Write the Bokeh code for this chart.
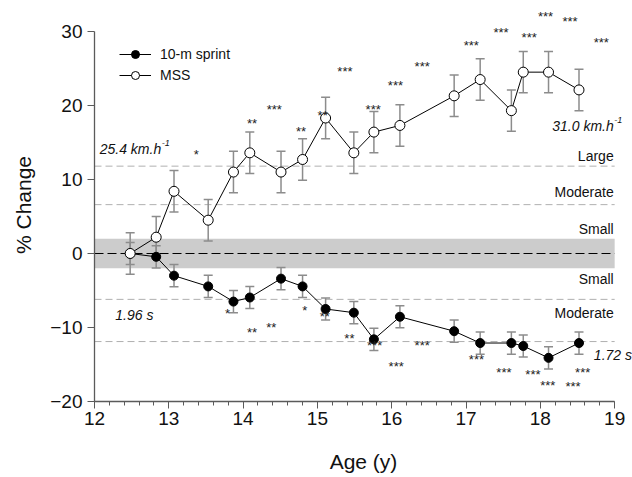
from bokeh.plotting import figure
from bokeh.models import Legend, LegendItem, SingleIntervalTicker
from bokeh.embed import file_html
from bokeh.resources import INLINE
from bokeh.core.properties import value

FONT = value("Liberation Sans")

# ---------------- data ----------------
ages = [12.48, 12.83, 13.07, 13.53, 13.87, 14.09, 14.51, 14.80, 15.11,
        15.49, 15.76, 16.11, 16.84, 17.19, 17.61, 17.77, 18.11, 18.52]
mss = [0.0, 2.2, 8.4, 4.5, 11.0, 13.6, 11.0, 12.7, 18.3,
       13.6, 16.4, 17.3, 21.3, 23.5, 19.3, 24.5, 24.5, 22.1]
mss_err = [2.8, 2.8, 2.8, 2.8, 2.8, 2.8, 2.8, 2.8, 2.8,
           2.8, 2.8, 2.8, 2.8, 2.8, 2.8, 2.8, 2.8, 2.8]
sprint = [0.0, -0.45, -3.0, -4.45, -6.5, -5.95, -3.4, -4.45, -7.5,
          -8.0, -11.6, -8.55, -10.5, -12.1, -12.1, -12.5, -14.1, -12.1]
sprint_err = [1.5, 1.5, 1.5, 1.5, 1.5, 1.5, 1.5, 1.5, 1.5,
              1.5, 1.5, 1.5, 1.5, 1.5, 1.5, 1.5, 1.5, 1.5]

# significance markers
mss_star_x = [13.37, 14.12, 14.42, 14.78, 15.07, 15.37, 15.75, 16.05,
              16.41, 17.07, 17.47, 17.85, 18.07, 18.40, 18.82]
mss_star_y = [13.8, 17.9, 19.9, 16.9, 19.1, 25.0, 19.9, 23.15,
              25.7, 28.55, 30.2, 29.55, 32.45, 31.7, 28.9]
mss_star_txt = ["*", "**", "***", "**", "**", "***", "***", "***",
                "***", "***", "***", "***", "***", "***", "***"]
sp_star_x = [13.79, 14.12, 14.38, 14.83, 15.10, 15.43, 15.77, 16.06,
             16.41, 17.14, 17.51, 17.90, 18.10, 18.44, 18.57]
sp_star_y = [-7.7, -10.3, -9.55, -7.25, -8.05, -11.1, -12.05, -14.8,
             -12.0, -13.9, -15.7, -15.9, -17.5, -17.6, -15.7]
sp_star_txt = ["*", "**", "**", "*", "**", "**", "***", "***",
               "***", "***", "***", "***", "***", "***", "***"]

# effect-size thresholds
band_lo, band_hi = -2.0, 2.0
thresholds = [11.8, 6.6, -6.2, -11.9]
zone_txt = ["Large", "Moderate", "Small", "Small", "Moderate"]
zone_y = [13.2, 8.3, 3.25, -3.5, -8.1]

ref_txt = ["25.4 km.h", "31.0 km.h"]
ref_x = [12.07, 18.16]
ref_y = [14.05, 17.2]
time_txt = ["1.96 s", "1.72 s"]
time_x = [12.28, 18.72]
time_y = [-8.25, -13.75]

x_min, x_max = 12, 19
y_min, y_max = -20, 30

# ---------------- figure ----------------
p = figure(width=632, height=477, x_range=(12, 19.24), y_range=(-20, 33.1),
           output_backend="svg", toolbar_location=None,
           min_border_left=94, min_border_right=0, min_border_top=8,
           min_border_bottom=76)
p.outline_line_color = None
p.grid.visible = False

# band and reference lines
p.quad(left=[x_min], right=[x_max], bottom=[band_lo], top=[band_hi],
       fill_color="#cccccc", line_color=None)
for t in thresholds:
    p.line(x=[x_min, x_max], y=[t, t], line_color="#b0b0b0", line_width=1,
           line_dash="7 4")
p.line(x=[x_min, x_max], y=[0, 0], line_color="black", line_width=1.2,
       line_dash="9 4")

# error bars
bar_col = "#8c8c8c"
for vals, errs in ((sprint, sprint_err), (mss, mss_err)):
    lo = [v - e for v, e in zip(vals, errs)]
    hi = [v + e for v, e in zip(vals, errs)]
    p.segment(x0=ages, y0=lo, x1=ages, y1=hi, line_color=bar_col, line_width=1.5)
    p.scatter(x=ages + ages, y=lo + hi, marker="dash", size=9,
              line_color=bar_col, line_width=1.5)

# series
sp_line = p.line(ages, sprint, line_color="black", line_width=1)
ms_line = p.line(ages, mss, line_color="black", line_width=1)
sp_pts = p.scatter(ages, sprint, size=9, fill_color="black", line_color="black")
ms_pts = p.scatter(ages, mss, size=10, fill_color="white", line_color="black",
                   line_width=1)

# stars
p.text(x=mss_star_x, y=mss_star_y, text=mss_star_txt, text_font=FONT,
       text_font_size="13px", text_align="center", text_baseline="middle",
       y_offset=3, text_color="#222222")
p.text(x=sp_star_x, y=sp_star_y, text=sp_star_txt, text_font=FONT,
       text_font_size="13px", text_align="center", text_baseline="middle",
       y_offset=3, text_color="#222222")

# zone labels
p.text(x=[x_max] * len(zone_txt), y=zone_y, text=zone_txt, text_font=FONT,
       text_font_size="14px", text_align="right", text_baseline="middle",
       x_offset=-1, text_color="#111111")

# reference values
p.text(x=ref_x, y=ref_y, text=ref_txt, text_font=FONT, text_font_size="14px",
       text_font_style="italic", text_align="left", text_baseline="middle",
       text_color="#111111")
p.text(x=ref_x, y=ref_y, text=["-1", "-1"], text_font=FONT, text_font_size="9px",
       text_font_style="italic", text_align="left", text_baseline="middle",
       x_offset=62, y_offset=-6, text_color="#111111")
p.text(x=time_x, y=time_y, text=time_txt, text_font=FONT, text_font_size="14px",
       text_font_style="italic", text_align="left", text_baseline="middle",
       text_color="#111111")

# axes
axis_col = "#5a5a5a"
for ax in (p.xaxis[0], p.yaxis[0]):
    ax.axis_line_color = axis_col
    ax.axis_line_width = 1.3
    ax.major_tick_line_color = axis_col
    ax.minor_tick_line_color = axis_col
    ax.major_tick_in = 0
    ax.minor_tick_in = 0
    ax.major_label_text_font = "Liberation Sans"
    ax.major_label_text_font_size = "19px"
    ax.major_label_text_color = "#111111"
    ax.axis_label_text_font = "Liberation Sans"
    ax.axis_label_text_font_size = "21px"
    ax.axis_label_text_font_style = "normal"
    ax.axis_label_text_color = "#111111"

p.xaxis.ticker = SingleIntervalTicker(interval=1, num_minor_ticks=5)
p.xaxis.bounds = (x_min, x_max)
p.xaxis.major_tick_out = 7
p.xaxis.minor_tick_out = 4
p.xaxis.major_label_standoff = 3
p.xaxis.axis_label = "Age (y)"
p.xaxis.axis_label_standoff = 22

p.yaxis.ticker = SingleIntervalTicker(interval=10, num_minor_ticks=0)
p.yaxis.bounds = (y_min, y_max)
p.yaxis.major_tick_out = 7
p.yaxis.minor_tick_out = 0
p.yaxis.major_label_standoff = 5
p.yaxis.axis_label = "% Change"
p.yaxis.axis_label_standoff = 12

# legend
legend = Legend(items=[LegendItem(label="10-m sprint", renderers=[sp_line, sp_pts]),
                       LegendItem(label="MSS", renderers=[ms_line, ms_pts])],
                location=(25, 316), padding=0, spacing=1, glyph_width=32,
                glyph_height=20, label_height=20, label_standoff=9,
                label_text_font="Liberation Sans", label_text_font_size="14px",
                label_text_color="#111111",
                border_line_color=None, background_fill_alpha=0, margin=0)
p.add_layout(legend, "center")

open("out.html", "w").write(file_html(p, INLINE))
